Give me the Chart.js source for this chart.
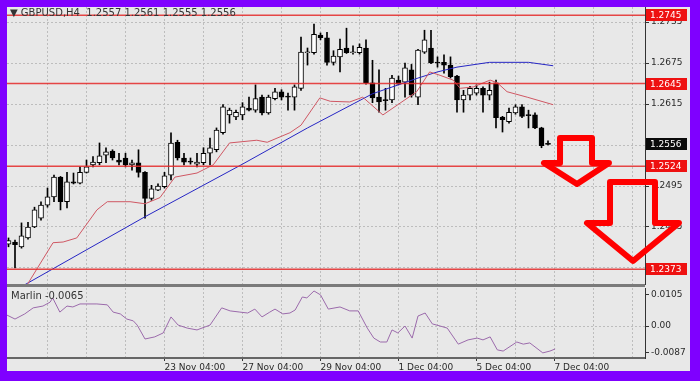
<!DOCTYPE html>
<html><head><meta charset="utf-8">
<script src="https://cdn.jsdelivr.net/npm/chart.js@4.4.1/dist/chart.umd.min.js"></script>
<style>
html,body{margin:0;padding:0;}
body{width:700px;height:381px;background:#7f00ff;position:relative;overflow:hidden;font-family:"DejaVu Sans",sans-serif;}
#inner{position:absolute;left:7px;top:7px;width:683px;height:364px;background:#e8e8e8;}
canvas{position:absolute;}
#main{left:7px;top:7px;}
#ind{left:7px;top:287px;}
#sep{position:absolute;left:7px;top:284px;width:638px;height:3px;background:#7a7a7a;}
.txt{position:absolute;font-size:10px;line-height:12px;color:#333;white-space:pre;}
</style></head>
<body>
<div id="inner"></div>
<canvas id="main" width="683" height="278"></canvas>
<canvas id="ind" width="683" height="84"></canvas>
<div id="sep"></div>
<div class="txt" style="left:10px;top:7px;">▼ GBPUSD,H4  1.2557 1.2561 1.2555 1.2556</div>
<div class="txt" style="left:11px;top:290px;">Marlin -0.0065</div>
<script>
// ---- data ----
const opens  = [1.2410,1.2413,1.2406,1.2419,1.2435,1.2448,1.2467,1.2479,1.2508,1.2472,1.2501,1.2499,1.2515,1.2526,1.2529,1.2540,1.2546,1.2533,1.2536,1.2526,1.2529,1.2515,1.2477,1.2489,1.2494,1.2511,1.2559,1.2536,1.2531,1.2527,1.2529,1.2543,1.2548,1.2573,1.2599,1.2596,1.2599,1.2609,1.2606,1.2625,1.2602,1.2623,1.2633,1.2626,1.2625,1.2638,1.2690,1.2690,1.2716,1.2712,1.2676,1.2684,1.2697,1.2690,1.2690,1.2697,1.2646,1.2625,1.2621,1.2621,1.2650,1.2647,1.2665,1.2625,1.2691,1.2697,1.2676,1.2676,1.2672,1.2656,1.2621,1.2628,1.2631,1.2638,1.2628,1.2646,1.2596,1.2589,1.2602,1.2611,1.2599,1.2599,1.2580,1.2557];
const highs  = [1.2419,1.2416,1.2441,1.2442,1.2464,1.2472,1.2492,1.2511,1.2509,1.2515,1.2514,1.2523,1.2533,1.2538,1.2558,1.2551,1.2548,1.2543,1.2543,1.2533,1.2548,1.2516,1.2496,1.2498,1.2515,1.2573,1.2562,1.2543,1.2536,1.2543,1.2551,1.2565,1.2580,1.2614,1.2609,1.2606,1.2617,1.2625,1.2643,1.2628,1.2628,1.2638,1.2636,1.2631,1.2643,1.2713,1.2697,1.2732,1.2719,1.2720,1.2693,1.2710,1.2726,1.2700,1.2703,1.2709,1.2679,1.2665,1.2638,1.2657,1.2656,1.2675,1.2673,1.2695,1.2723,1.2723,1.2684,1.2687,1.2684,1.2657,1.2635,1.2641,1.2643,1.2640,1.2647,1.2650,1.2597,1.2609,1.2614,1.2614,1.2606,1.2602,1.2581,1.2561];
const lows   = [1.2406,1.2375,1.2404,1.2417,1.2434,1.2445,1.2464,1.2472,1.2460,1.2463,1.2498,1.2498,1.2514,1.2523,1.2526,1.2529,1.2533,1.2526,1.2523,1.2518,1.2508,1.2448,1.2474,1.2488,1.2492,1.2504,1.2533,1.2526,1.2527,1.2523,1.2526,1.2526,1.2545,1.2571,1.2587,1.2592,1.2592,1.2605,1.2603,1.2599,1.2600,1.2621,1.2621,1.2606,1.2606,1.2635,1.2672,1.2688,1.2709,1.2672,1.2672,1.2662,1.2689,1.2688,1.2688,1.2644,1.2617,1.2603,1.2606,1.2617,1.2643,1.2625,1.2625,1.2614,1.2689,1.2674,1.2669,1.2660,1.2653,1.2603,1.2603,1.2621,1.2628,1.2603,1.2621,1.2580,1.2574,1.2587,1.2600,1.2595,1.2580,1.2579,1.2551,1.2555];
const closes = [1.2415,1.2409,1.2422,1.2435,1.2460,1.2467,1.2479,1.2508,1.2472,1.2501,1.2499,1.2515,1.2523,1.2530,1.2539,1.2545,1.2536,1.2530,1.2526,1.2529,1.2515,1.2477,1.2491,1.2495,1.2510,1.2558,1.2536,1.2530,1.2530,1.2530,1.2543,1.2551,1.2577,1.2611,1.2606,1.2603,1.2611,1.2606,1.2623,1.2602,1.2625,1.2633,1.2625,1.2625,1.2640,1.2691,1.2691,1.2717,1.2712,1.2676,1.2685,1.2695,1.2690,1.2691,1.2698,1.2646,1.2624,1.2618,1.2620,1.2653,1.2644,1.2668,1.2628,1.2694,1.2709,1.2675,1.2675,1.2672,1.2655,1.2621,1.2628,1.2638,1.2638,1.2628,1.2635,1.2595,1.2592,1.2603,1.2611,1.2597,1.2598,1.2580,1.2554,1.2556];

const maSlowIdx = [0, 21, 36, 46, 56, 63, 66, 69, 74, 80, 83.8];
const maSlowVal = [1.2337, 1.2450, 1.2527, 1.2580, 1.2630, 1.2653, 1.2662, 1.2669, 1.2676, 1.2676, 1.2671];

const maFastIdx = [0, 6.85, 8.4, 10.5, 13.6, 15.2, 18.7, 21, 23.3, 25.6, 29, 31.5, 34, 38.2, 39.8, 43.3, 45, 47.9, 49.5, 52.5, 54.5, 57.6, 62.8, 64.8, 66.4, 68.4, 69.5, 71.5, 74.1, 75.2, 76.7, 79.8, 83.8];
const maFastVal = [1.2306, 1.2412, 1.2413, 1.2419, 1.2460, 1.2472, 1.2472, 1.2469, 1.2478, 1.2508, 1.2514, 1.2526, 1.2558, 1.2562, 1.2559, 1.2573, 1.2584, 1.2624, 1.2619, 1.2618, 1.2625, 1.2599, 1.2633, 1.2662, 1.2657, 1.2650, 1.2638, 1.2640, 1.2650, 1.2646, 1.2633, 1.2625, 1.2614];

const marlinIdx = [-0.23,1.0,2.5,3.8,5.3,6.4,6.8,7.9,9.0,9.9,11.0,13.6,15.2,16.1,17.2,18.2,19.2,19.8,21.0,22.5,23.8,25.0,26.1,27.5,29.0,31.0,32.8,34.1,35.6,36.8,37.9,39.0,40.2,41.0,42.2,43.3,44.1,45.2,45.9,47.0,48.0,49.2,51.0,52.5,53.8,55.2,56.2,57.2,58.2,59.0,59.9,61.0,62.1,63.0,64.1,65.2,66.4,67.5,69.2,70.7,72.1,73.0,74.1,75.2,76.1,78.2,79.2,80.2,82.2,83.3,84.1];
const marlinVal = [0.0036,0.0023,0.0040,0.0060,0.0066,0.0079,0.0093,0.0046,0.0066,0.0063,0.0073,0.0073,0.0070,0.0046,0.0040,0.0023,0.0017,0.0003,-0.0043,-0.0036,-0.0023,0.0030,0.0003,-0.0007,-0.0013,0.0003,0.0060,0.0050,0.0046,0.0043,0.0056,0.0030,0.0046,0.0056,0.0040,0.0043,0.0053,0.0096,0.0093,0.0116,0.0103,0.0056,0.0063,0.0050,0.0050,-0.0007,-0.0040,-0.0053,-0.0053,-0.0013,-0.0023,0.0000,-0.0040,0.0033,0.0043,0.0007,0.0000,-0.0007,-0.0060,-0.0046,-0.0040,-0.0046,-0.0036,-0.0079,-0.0083,-0.0053,-0.0060,-0.0056,-0.0089,-0.0083,-0.0076];

const levelPrices = [1.2745, 1.2645, 1.2524, 1.2373];
const lastPrice = 1.2556;
const priceTicks = [1.2735, 1.2675, 1.2615, 1.2555, 1.2495, 1.2435, 1.2375];
const marlinTicks = [0.0105, 0, -0.0087];
const dayGridIdx = [6,12,18,24,30,36,42,48,54,60,66,72,78,84,90,96];
const timeTickIdx = [24, 36, 48, 60, 72, 84];
const timeTickLabels = ['23 Nov 04:00','27 Nov 04:00','29 Nov 04:00','1 Dec 04:00','5 Dec 04:00','7 Dec 04:00'];

// annotation arrows (bar index, price)
const arrowShapes = [
  [[84.85,1.25653],[89.77,1.25653],[89.77,1.25287],[92.38,1.25287],[87.46,1.24979],[82.38,1.25287],[84.85,1.25287]],
  [[92.54,1.25009],[99.46,1.25009],[99.46,1.24409],[103.15,1.24409],[96.08,1.23853],[89.00,1.24409],[92.54,1.24409]]
];

// ---- rendering ----
Chart.defaults.font.family = '"DejaVu Sans", sans-serif';
Chart.defaults.font.size = 9;
Chart.defaults.color = '#2a2a2a';

const X_MIN = -0.2308, X_MAX = 97.923;
const GRID = '#bdbdbd';
const idx = opens.map((_, i) => i);
const bull = closes.map((c, i) => c >= opens[i]);
const noPad = s => { s.paddingTop = 0; s.paddingBottom = 0; s.paddingLeft = 0; s.paddingRight = 0; };

function labelBox(ctx, a, py, bg, text) {
  ctx.fillStyle = bg;
  ctx.fillRect(a.right + 1, Math.round(py) - 6, 41, 12);
  ctx.fillStyle = '#ffffff';
  ctx.font = '9px "DejaVu Sans", sans-serif';
  ctx.textBaseline = 'middle';
  ctx.textAlign = 'left';
  ctx.fillText(text, a.right + 5, Math.round(py) + 0.5);
}

const overlay = {
  id: 'overlay',
  afterDatasetsDraw(chart) {
    const {ctx, chartArea: a, scales: {y}} = chart;
    ctx.save();
    ctx.beginPath(); ctx.rect(a.left, a.top, a.right - a.left, a.bottom - a.top); ctx.clip();
    ctx.strokeStyle = 'rgba(228,40,40,0.85)';
    ctx.lineWidth = 1.5;
    levelPrices.forEach(v => {
      const py = y.getPixelForValue(v);
      ctx.beginPath(); ctx.moveTo(a.left, py); ctx.lineTo(a.right, py); ctx.stroke();
    });
    ctx.restore();
  },
  afterDraw(chart) {
    const {ctx, chartArea: a, scales: {x, y}} = chart;
    ctx.save();
    levelPrices.forEach(v => labelBox(ctx, a, y.getPixelForValue(v), '#ee1111', v.toFixed(4)));
    labelBox(ctx, a, y.getPixelForValue(lastPrice), '#0a0a0a', lastPrice.toFixed(4));
    ctx.strokeStyle = '#ff0000';
    ctx.lineWidth = 6;
    ctx.lineJoin = 'round';
    arrowShapes.forEach(shape => {
      ctx.beginPath();
      shape.forEach(([i, p], k) => {
        const px = x.getPixelForValue(i), py = y.getPixelForValue(p);
        if (k) ctx.lineTo(px, py); else ctx.moveTo(px, py);
      });
      ctx.closePath();
      ctx.stroke();
    });
    ctx.restore();
  }
};

new Chart(document.getElementById('main'), {
  type: 'bar',
  data: {
    datasets: [
      { type: 'line', data: maFastIdx.map((v, k) => ({x: v, y: maFastVal[k]})), borderColor: '#cf5763', borderWidth: 1, pointRadius: 0, tension: 0, order: 0 },
      { type: 'line', data: maSlowIdx.map((v, k) => ({x: v, y: maSlowVal[k]})), borderColor: '#2626c4', borderWidth: 1, pointRadius: 0, tension: 0, order: 0 },
      { type: 'bar', data: idx.map(i => ({x: i, y: [opens[i], closes[i]]})), backgroundColor: bull.map(b => b ? '#ffffff' : '#000000'), borderColor: '#000000', borderWidth: 1, borderSkipped: false, barThickness: 5, minBarLength: 1, grouped: false, order: 1 },
      { type: 'bar', data: idx.map(i => ({x: i, y: [lows[i], highs[i]]})), backgroundColor: '#000000', borderWidth: 0, barThickness: 1, grouped: false, order: 2 }
    ]
  },
  options: {
    responsive: false, animation: false, devicePixelRatio: 1,
    layout: { padding: 0 },
    plugins: { legend: { display: false }, tooltip: { enabled: false } },
    scales: {
      x: {
        type: 'linear', min: X_MIN, max: X_MAX, offset: false,
        grid: { offset: false, color: GRID, lineWidth: 1, drawTicks: false },
        border: { display: false, dash: [2, 2] },
        ticks: { display: false },
        afterBuildTicks: s => { s.ticks = dayGridIdx.map(v => ({value: v})); },
        afterFit: s => { s.height = 0; noPad(s); }
      },
      y: {
        type: 'linear', position: 'right',
        min: 1.23501, max: 1.27570,
        grid: { color: GRID, lineWidth: 1, tickLength: 4, tickColor: '#333', tickBorderDash: [] },
        border: { display: true, color: '#333', width: 1, dash: [2, 2] },
        ticks: { padding: 2, callback: v => Number(v).toFixed(4) },
        afterBuildTicks: s => { s.ticks = priceTicks.map(v => ({value: v})); },
        afterFit: s => { s.width = 45; noPad(s); }
      }
    }
  },
  plugins: [overlay]
});

new Chart(document.getElementById('ind'), {
  type: 'line',
  data: {
    datasets: [
      { data: marlinIdx.map((v, k) => ({x: v, y: marlinVal[k]})), borderColor: '#9b6aab', borderWidth: 1, pointRadius: 0, tension: 0 }
    ]
  },
  options: {
    responsive: false, animation: false, devicePixelRatio: 1,
    layout: { padding: { top: 1, left: 0, right: 0, bottom: 0 } },
    plugins: { legend: { display: false }, tooltip: { enabled: false } },
    scales: {
      x: {
        type: 'linear', min: X_MIN, max: X_MAX, offset: false,
        grid: { offset: false, color: GRID, lineWidth: 1, tickLength: 3,
                tickColor: c => (c.tick && timeTickIdx.includes(c.tick.value)) ? '#333' : 'rgba(0,0,0,0)' },
        border: { display: true, color: '#666', width: 2, dash: [2, 2] },
        ticks: { autoSkip: false, maxRotation: 0, minRotation: 0, align: 'start', padding: 1,
                 callback: v => { const k = timeTickIdx.indexOf(v); return k >= 0 ? timeTickLabels[k] : ''; } },
        afterBuildTicks: s => { s.ticks = dayGridIdx.map(v => ({value: v})); },
        afterFit: s => { s.height = 13; noPad(s); }
      },
      y: {
        type: 'linear', position: 'right', min: -0.010592, max: 0.012578,
        grid: { color: c => (c.tick && c.tick.value === 0) ? GRID : 'rgba(0,0,0,0)', tickLength: 4, tickColor: '#333' },
        border: { display: true, color: '#333', width: 1, dash: [2, 2] },
        ticks: { padding: 2, callback: v => v === 0 ? '0.00' : Number(v).toFixed(4) },
        afterBuildTicks: s => { s.ticks = marlinTicks.map(v => ({value: v})); },
        afterFit: s => { s.width = 45; noPad(s); }
      }
    }
  }
});
</script>
</body></html>
